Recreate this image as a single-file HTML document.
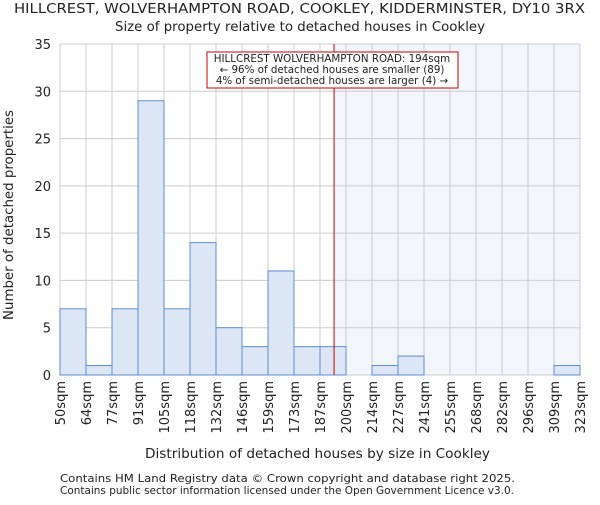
<!DOCTYPE html>
<html><head><meta charset="utf-8"><style>
body{margin:0;background:#fff;}
svg text{font-family:"DejaVu Sans","Liberation Sans",sans-serif;fill:#222;}
</style></head><body>
<svg id="chart" width="600" height="500" xmlns="http://www.w3.org/2000/svg">
<text x="14" y="13" font-size="13" textLength="571" lengthAdjust="spacingAndGlyphs">HILLCREST, WOLVERHAMPTON ROAD, COOKLEY, KIDDERMINSTER, DY10 3RX</text>
<text x="115" y="31" font-size="13" textLength="370" lengthAdjust="spacingAndGlyphs">Size of property relative to detached houses in Cookley</text>
<g id="shade"></g><g id="grid"></g><g id="bars"></g><g id="axes"></g>
<text x="145" y="458" font-size="13" textLength="345" lengthAdjust="spacingAndGlyphs">Distribution of detached houses by size in Cookley</text>
<text transform="translate(13,320) rotate(-90)" font-size="13" textLength="210" lengthAdjust="spacingAndGlyphs">Number of detached properties</text>
<text x="60" y="482" font-size="10.5" textLength="455" lengthAdjust="spacingAndGlyphs">Contains HM Land Registry data © Crown copyright and database right 2025.</text>
<text x="60" y="494" font-size="10.5" textLength="454" lengthAdjust="spacingAndGlyphs">Contains public sector information licensed under the Open Government Licence v3.0.</text>
</svg>
<script>
const tickLabels=["50sqm","64sqm","77sqm","91sqm","105sqm","118sqm","132sqm","146sqm","159sqm","173sqm","187sqm","200sqm","214sqm","227sqm","241sqm","255sqm","268sqm","282sqm","296sqm","309sqm","323sqm"];
const counts=[7,1,7,29,7,14,5,3,11,3,3,0,1,2,0,0,0,0,0,1];
const yTicks=[0,5,10,15,20,25,30,35];
const markerBin=10.54;
const NS="http://www.w3.org/2000/svg";
const x0=60,x1=580,y0=375,y1=44,yMax=35;
const bw=(x1-x0)/counts.length;
const X=i=>x0+i*bw, Y=v=>y0-(v/yMax)*(y0-y1);
function mk(p,t,a){const e=document.createElementNS(NS,t);for(const k in a)e.setAttribute(k,a[k]);document.getElementById(p).appendChild(e);return e;}
const mx=X(markerBin);
let s=mk('shade','rect',{x:mx,y:y1,width:x1-mx,height:y0-y1,fill:'#f2f5fc'});


for(let i=0;i<=counts.length;i++){let g=mk('grid','line',{x1:X(i),x2:X(i),y1:y1,y2:y0,stroke:'#ccc','stroke-width':1});

}
yTicks.forEach(v=>{let g=mk('grid','line',{x1:x0,x2:x1,y1:Y(v),y2:Y(v),stroke:'#ccc','stroke-width':1});


let t=mk('axes','text',{x:x0-9,y:Y(v)+5,'text-anchor':'end','font-size':13});t.textContent=v;

});
counts.forEach((c,i)=>{if(c<=0)return;let r=mk('bars','rect',{x:X(i),y:Y(c),width:bw,height:y0-Y(c),fill:'#dde6f4',stroke:'#5b8ed6','stroke-width':1});

});
tickLabels.forEach((l,i)=>{let t=mk('axes','text',{transform:`translate(${X(i)+5},381) rotate(-90)`,'text-anchor':'end','font-size':13});t.textContent=l;

});
let ln=mk('axes','line',{x1:mx,x2:mx,y1:y1,y2:y0,stroke:'#cc0000','stroke-width':1});


let bx=mk('axes','rect',{x:207,y:52,width:251,height:36,fill:'#fff',stroke:'#cc0000','stroke-width':1});


["HILLCREST WOLVERHAMPTON ROAD: 194sqm","← 96% of detached houses are smaller (89)","4% of semi-detached houses are larger (4) →"].forEach((t,i)=>{let e=mk('axes','text',{x:332,y:62+i*11,'text-anchor':'middle','font-size':10.3});e.textContent=t;

});
</script>
</body></html>
